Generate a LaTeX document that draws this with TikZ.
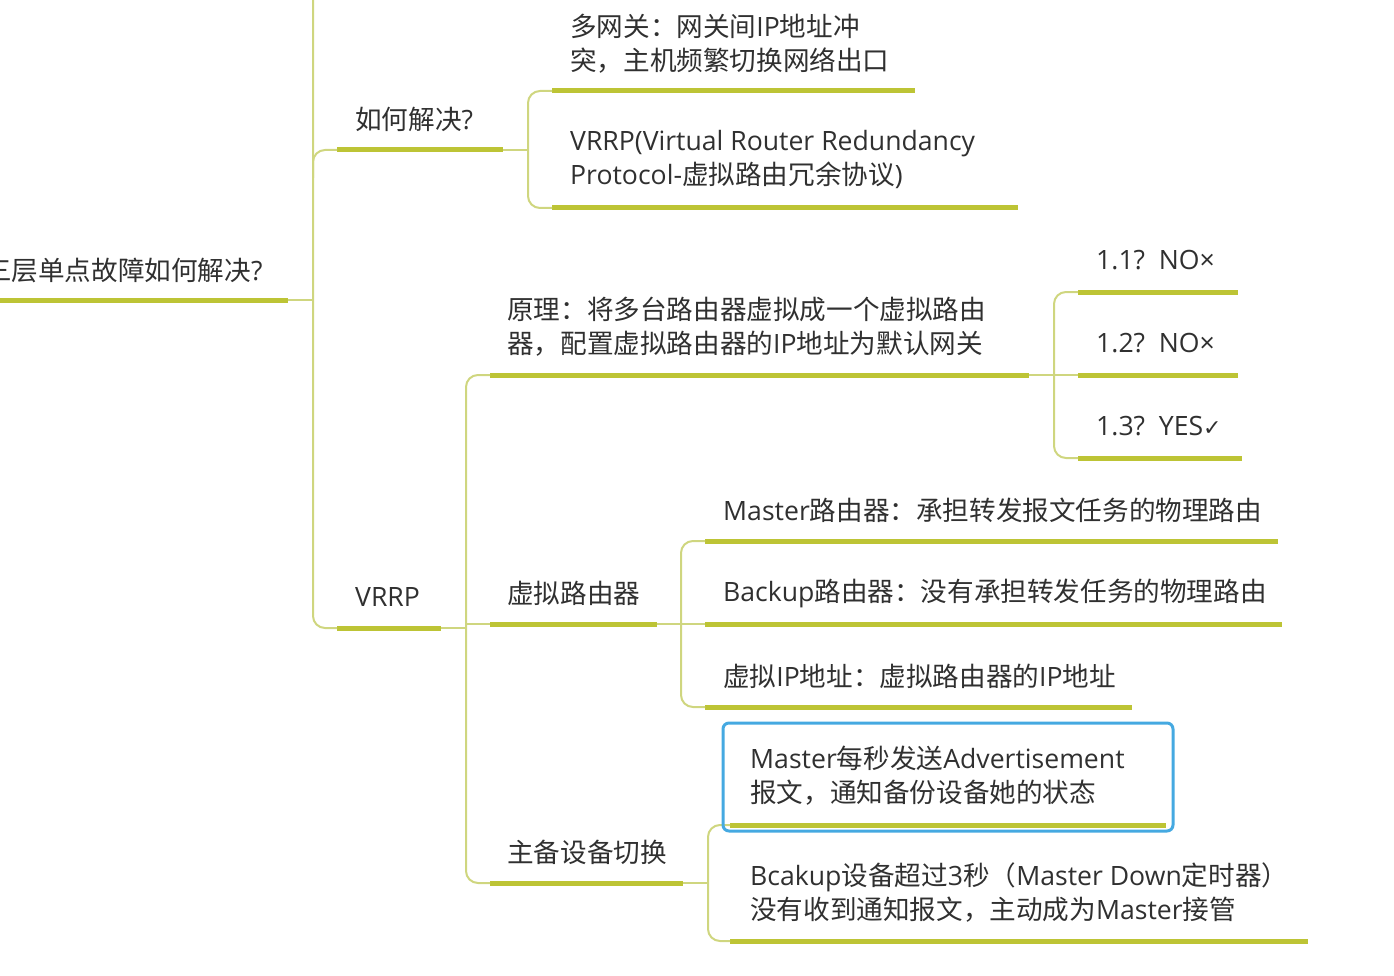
\documentclass[tikz,border=0pt]{standalone}
\usepackage{fontspec}
\setmainfont{Noto Sans CJK SC}
\newfontfamily\lat{Open Sans}
\newfontfamily\sym{DejaVu Sans}
\definecolor{ulc}{HTML}{BDC435}
\definecolor{cnc}{HTML}{CFD67F}
\definecolor{tx}{HTML}{303030}
\definecolor{selblue}{HTML}{45A9E1}
\begin{document}
\begin{tikzpicture}[x=1pt,y=-1pt,
  txt/.style={anchor=west,inner sep=0pt,align=left,font=\fontsize{26.6}{34}\selectfont,text=tx},
  ul/.style={draw=ulc,line width=5pt},
  conn/.style={draw=cnc,line width=2pt,rounded corners=12pt},
  selbox/.style={draw=selblue,line width=3pt,rounded corners=6pt}]
\useasboundingbox (0,0) rectangle (1394,976);
\clip (0,0) rectangle (1394,976);

% ---------- root ----------
\node[txt] (root) at (-15,270) {三层单点故障如何解决{\lat ?}};
\coordinate (rootA) at (-20,300);
\coordinate (rootB) at (288,300);
\coordinate (rootX) at (313,300);
\draw[ul] (rootA) -- (rootB);
\draw[conn] (rootB) -- (rootX);

% trunk
\coordinate (trTop) at (313,-20);
\coordinate (qJ) at (313,178);

% ---------- 如何解决? ----------
\node[txt] (q) at (355,119) {如何解决{\lat ?}};
\coordinate (qA) at (337,150);
\coordinate (qB) at (503,150);
\coordinate (qX) at (528,150);
\draw[ul] (qA) -- (qB);
\draw[conn] (qJ) |- (qA);
\draw[conn] (qB) -- (qX);

\node[txt] (g) at (570,43.5) {多网关：网关间{\lat IP}地址冲\\突，主机频繁切换网络出口};
\coordinate (gA) at (552,91);
\coordinate (gB) at (915,91);
\draw[ul] (gA) -- (gB);

\node[txt] (p) at (570,160) {{\lat VRRP(Virtual Router Redundancy}\\{\lat Protocol-}虚拟路由冗余协议{\lat )}};
\coordinate (pA) at (552,208);
\coordinate (pB) at (1018,208);
\draw[ul] (pA) -- (pB);
\draw[conn] (gA) -| (qX) |- (pA);

% ---------- VRRP ----------
\node[txt] (v) at (355,597) {{\lat VRRP}};
\coordinate (vA) at (337,628);
\coordinate (vB) at (441,628);
\coordinate (vX) at (466,628);
\draw[ul] (vA) -- (vB);
\draw[conn] (trTop) |- (vA);
\draw[conn] (vB) -- (vX);

% 原理
\node[txt] (y) at (507,327) {原理：将多台路由器虚拟成一个虚拟路由\\器，配置虚拟路由器的{\lat IP}地址为默认网关};
\coordinate (yA) at (490,375);
\coordinate (yB) at (1029,375);
\coordinate (yX) at (1054,375);
\draw[ul] (yA) -- (yB);
\draw[conn] (yB) -- (yX);

\node[txt] (a) at (1096,260) {{\lat 1.1?\ \ NO×}};
\coordinate (aA) at (1078,292);
\coordinate (aB) at (1238,292);
\draw[ul] (aA) -- (aB);
\node[txt] (b) at (1096,343) {{\lat 1.2?\ \ NO×}};
\coordinate (bA) at (1078,375);
\coordinate (bB) at (1238,375);
\draw[ul] (bA) -- (bB);
\node[txt] (c) at (1096,426) {{\lat 1.3?\ \ YES}{\sym\fontsize{22}{30}\selectfont ✓}};
\coordinate (cA) at (1078,458);
\coordinate (cB) at (1242,458);
\draw[ul] (cA) -- (cB);
\draw[conn] (aA) -| (yX) |- (cA);
\draw[conn] (yX) -- (bA);

% 虚拟路由器
\node[txt] (x) at (507,593) {虚拟路由器};
\coordinate (xA) at (490,624);
\coordinate (xB) at (657,624);
\coordinate (xX) at (681,624);
\coordinate (vM) at (466,624);
\draw[ul] (xA) -- (xB);
\draw[conn] (xB) -- (xX);
\draw[conn] (vM) -- (xA);

\node[txt] (m1) at (723,510) {{\lat Master}路由器：承担转发报文任务的物理路由};
\coordinate (m1A) at (705,541);
\coordinate (m1B) at (1278,541);
\draw[ul] (m1A) -- (m1B);
\node[txt] (m2) at (723,593) {{\lat Backup}路由器：没有承担转发任务的物理路由};
\coordinate (m2A) at (705,624);
\coordinate (m2B) at (1282,624);
\draw[ul] (m2A) -- (m2B);
\node[txt] (m3) at (723,676) {虚拟{\lat IP}地址：虚拟路由器的{\lat IP}地址};
\coordinate (m3A) at (705,707);
\coordinate (m3B) at (1132,707);
\draw[ul] (m3A) -- (m3B);
\draw[conn] (m1A) -| (xX) |- (m3A);
\draw[conn] (xX) -- (m2A);

% 主备设备切换
\node[txt] (z) at (507,852) {主备设备切换};
\coordinate (zA) at (490,883);
\coordinate (zB) at (683,883);
\coordinate (zX) at (708,883);
\draw[ul] (zA) -- (zB);
\draw[conn] (zB) -- (zX);
\draw[conn] (yA) -| (vX) |- (zA);

\node[txt] (s1) at (750,776) {{\lat Master}每秒发送{\lat Advertisement}\\报文，通知备份设备她的状态};
\coordinate (s1A) at (730,825);
\coordinate (s1B) at (1166,825);
\draw[ul] (s1A) -- (s1B);
\node[txt] (s2) at (750,893) {{\lat Bcakup}设备超过{\lat 3}秒（{\lat Master Down}定时器）\\没有收到通知报文，主动成为{\lat Master}接管};
\coordinate (s2A) at (730,941);
\coordinate (s2B) at (1308,941);
\draw[ul] (s2A) -- (s2B);
\draw[conn] (s1A) -| (zX) |- (s2A);
\draw[selbox] (723,723) rectangle (1173,831);
\end{tikzpicture}
\end{document}
